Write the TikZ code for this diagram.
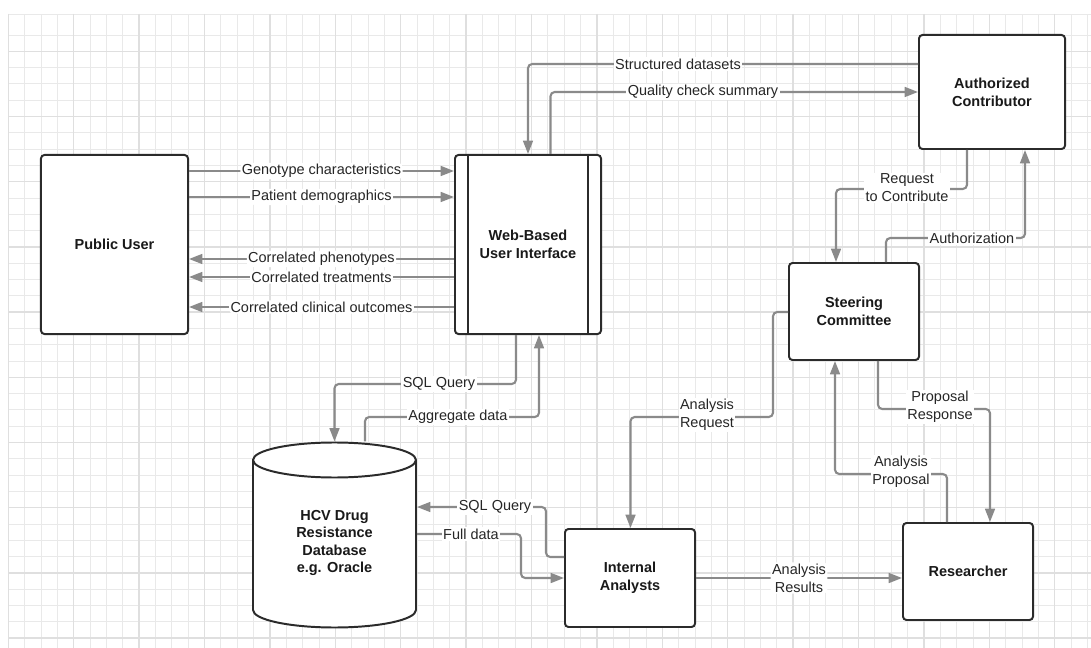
\documentclass[tikz,border=0pt]{standalone}
\usepackage{fontspec}
\setmainfont{Liberation Sans}
\usetikzlibrary{arrows.meta}
\definecolor{edgegray}{HTML}{8A8A8A}
\definecolor{boxedge}{HTML}{2B2B2B}
\definecolor{gridthin}{HTML}{E9E9E9}
\definecolor{gridthick}{HTML}{DFDFDF}

\begin{document}
\begin{tikzpicture}[x=0.025cm,y=-0.025cm,
		box/.style={draw=boxedge, line width=1.4pt, fill=white, rounded corners=2.5pt, inner sep=0pt, align=center, text=black!90, font=\fontsize{10.3}{12.6}\selectfont\bfseries},
		boxline/.style={draw=boxedge, line width=1.4pt},
		flow/.style={draw=edgegray, line width=1.5pt, rounded corners=3pt, -{Triangle[length=9.5pt,width=7pt]}},
		lbl/.style={fill=white, inner sep=1pt, align=center, text=black!85, font=\fontsize{10.3}{12.8}\selectfont}]
	\useasboundingbox (0,0) rectangle (1091,648);
	\foreach \k in {0,...,66} \draw[gridthin, line width=0.6pt] ({8.3+16.35*\k},14) -- ({8.3+16.35*\k},648);
	\draw[gridthin, line width=0.6pt] (8.3,14) -- (1091,14);
	\foreach \k in {0,...,37} \draw[gridthin, line width=0.6pt] (8.3,{35+16.3*\k}) -- (1091,{35+16.3*\k});
	\foreach \k in {0,...,16} \draw[gridthick, line width=0.9pt] ({8.3+65.4*\k},14) -- ({8.3+65.4*\k},648);
	\foreach \k in {0,...,9} \draw[gridthick, line width=0.9pt] (8.3,{51.3+65.2*\k}) -- (1091,{51.3+65.2*\k});
	
	\node[box, minimum width=3.675cm, minimum height=4.475cm] (pub) at (114.5,244.5) {Public User};
	\node[box, minimum width=3.65cm, minimum height=4.475cm] (webui) at (528,244.5) {Web-Based\\User Interface};
	\draw[boxline] (webui.north west) ++(14,0) -- ++(0,179);
	\draw[boxline] (webui.north east) ++(-14,0) -- ++(0,179);
	\node[box, minimum width=3.65cm, minimum height=2.85cm] (auth) at (992,92) {Authorized\\Contributor};
	\node[box, minimum width=3.25cm, minimum height=2.425cm] (steer) at (854,311.5) {Steering\\Committee};
	\node[box, minimum width=3.25cm, minimum height=2.45cm] (intan) at (630,578) {Internal\\Analysts};
	\node[box, minimum width=3.25cm, minimum height=2.425cm] (res) at (968,571.5) {Researcher};
	\draw[boxline, fill=white] (253,460) -- (253,610) arc[start angle=180, end angle=0, x radius=81.5, y radius=17.5] -- (416,460) arc[start angle=0, end angle=-180, x radius=81.5, y radius=17.5] -- cycle;
	\draw[boxline] (253,460) arc[start angle=180, end angle=0, x radius=81.5, y radius=17.5];
	\node[box, draw=none, fill=none, minimum width=4.075cm, minimum height=5.025cm, font=\fontsize{10.3}{12.3}\selectfont\bfseries] (db) at (334.5,543) {HCV Drug\\Resistance\\Database\\e.g. Oracle};
	
	\draw[flow] (pub.east |- 0,171) -- node[lbl] {Genotype characteristics} (webui.west |- 0,171);
	\draw[flow] (pub.east |- 0,197) -- node[lbl] {Patient demographics} (webui.west |- 0,197);
	\draw[flow] (webui.west |- 0,259) -- node[lbl] {Correlated phenotypes} (pub.east |- 0,259);
	\draw[flow] (webui.west |- 0,277) -- node[lbl] {Correlated treatments} (pub.east |- 0,277);
	\draw[flow] (webui.west |- 0,307) -- node[lbl] {Correlated clinical outcomes} (pub.east |- 0,307);
	
	\draw[flow] (auth.west |- 0,64) -| (webui.north -| 528,0);
	\node[lbl] at (678,64) {Structured datasets};
	\draw[flow] (webui.north -| 550.5,0) |- (auth.west |- 0,92);
	\node[lbl] at (703,92) {Quality check summary};
	
	\draw[flow] (auth.south -| 967,0) |- (836,189) -- (steer.north -| 836,0);
	\node[lbl] at (907,188) {Request\\to Contribute};
	\draw[flow] (steer.north -| 886,0) |- (1025,238) -- (auth.south -| 1025,0);
	\node[lbl] at (972,238) {Authorization};
	
	\draw[flow] (steer.west |- 0,312) -| (773,417) -| (intan.north -| 630.5,0);
	\node[lbl] at (707,415) {Analysis\\Request};
	\draw[flow] (res.north -| 947,0) |- (835,474) -- (steer.south -| 835,0);
	\node[lbl] at (901,472) {Analysis\\Proposal};
	\draw[flow] (steer.south -| 878,0) |- (990,409) -- (res.north -| 990,0);
	\node[lbl] at (940,407) {Proposal\\Response};
	\draw[flow] (intan.east |- 0,578) -- node[lbl] {Analysis\\Results} (res.west |- 0,578);
	
	\draw[flow] (webui.south -| 516,0) |- (334.5,384) -- (db.north);
	\node[lbl] at (439,384) {SQL Query};
	\draw[flow] (db.north -| 365,0) |- (539,417) -- (webui.south -| 539,0);
	\node[lbl] at (458,417) {Aggregate data};
	\draw[flow] (intan.west |- 0,557) -| (546,507) -- (db.east |- 0,507);
	\node[lbl] at (495,507) {SQL Query};
	\draw[flow] (db.east |- 0,534) -| (521,578) -- (intan.west |- 0,578);
	\node[lbl] at (471,534) {Full data};
\end{tikzpicture}
\end{document}
